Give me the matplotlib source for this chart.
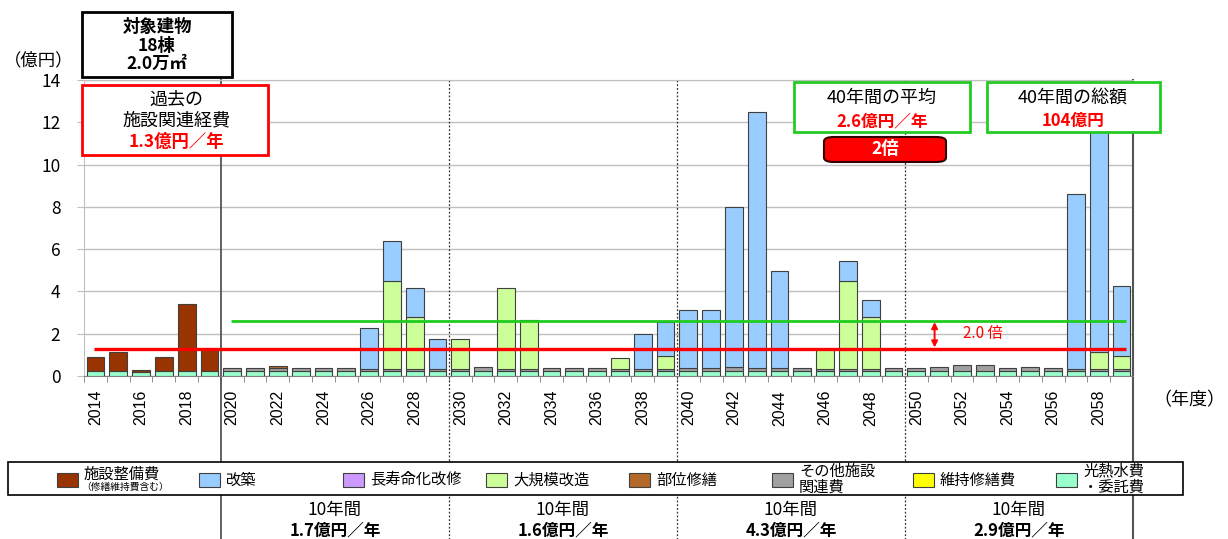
import numpy as np
import matplotlib
matplotlib.use('Agg')
import matplotlib.pyplot as plt
from matplotlib.patches import Rectangle, FancyBboxPatch
from matplotlib.transforms import blended_transform_factory
from matplotlib import font_manager

plt.rcParams['font.family'] = ['Noto Sans CJK JP', 'DejaVu Sans']

W, H = 1228, 539

years = list(range(2014, 2060))

# 億円, one value per year 2014-2059
kounetsu = [0.22, 0.22, 0.20, 0.22, 0.22, 0.22,
            0.22, 0.22, 0.22, 0.22, 0.22, 0.22, 0.22, 0.22, 0.22, 0.22,
            0.22, 0.22, 0.22, 0.22, 0.22, 0.22, 0.22, 0.22, 0.22, 0.22,
            0.22, 0.22, 0.22, 0.22, 0.22, 0.22, 0.22, 0.22, 0.22, 0.22,
            0.22, 0.22, 0.22, 0.22, 0.22, 0.22, 0.22, 0.22, 0.22, 0.22]
sonota = [0, 0, 0, 0, 0, 0,
          0.16, 0.16, 0.16, 0.16, 0.16, 0.16, 0.13, 0.13, 0.13, 0.13,
          0.13, 0.20, 0.13, 0.13, 0.15, 0.17, 0.17, 0.13, 0.13, 0.13,
          0.15, 0.15, 0.20, 0.15, 0.15, 0.18, 0.13, 0.13, 0.13, 0.18,
          0.14, 0.20, 0.30, 0.30, 0.18, 0.20, 0.18, 0.13, 0.13, 0.13]
iji = [0.0] * 46
buii = [0, 0, 0, 0, 0, 0,
        0, 0, 0.08, 0, 0, 0, 0, 0, 0, 0,
        0, 0, 0, 0, 0, 0, 0, 0, 0, 0,
        0, 0, 0, 0, 0, 0, 0, 0, 0, 0,
        0, 0, 0, 0, 0, 0, 0, 0, 0, 0]
daikibo = [0, 0, 0, 0, 0, 0,
           0, 0, 0, 0, 0, 0, 0, 4.12, 2.46, 0,
           1.40, 0, 3.83, 2.28, 0, 0, 0, 0.49, 0, 0.61,
           0, 0, 0, 0, 0, 0, 0.91, 4.14, 2.43, 0,
           0, 0, 0, 0, 0, 0, 0, 0, 0.80, 0.60]
chouju = [0.0] * 46
kaichiku = [0, 0, 0, 0, 0, 0,
            0, 0, 0, 0, 0, 0, 1.94, 1.92, 1.37, 1.40,
            0, 0, 0, 0, 0, 0, 0, 0, 1.62, 1.58,
            2.73, 2.73, 7.59, 12.13, 4.60, 0, 0, 0.95, 0.82, 0,
            0, 0, 0, 0, 0, 0, 0, 8.26, 11.85, 3.32]
seibi = [0.68, 0.90, 0.10, 0.69, 3.19, 1.08,
         0, 0, 0, 0, 0, 0, 0, 0, 0, 0,
         0, 0, 0, 0, 0, 0, 0, 0, 0, 0,
         0, 0, 0, 0, 0, 0, 0, 0, 0, 0,
         0, 0, 0, 0, 0, 0, 0, 0, 0, 0]

past_avg = 1.3
avg_40 = 2.6
total_40 = 104
decade_avg = [1.7, 1.6, 4.3, 2.9]

names = ['光熱水費\n・委託費', 'その他施設\n関連費', '維持修繕費', '部位修繕',
         '大規模改造', '長寿命化改修', '改築', '施設整備費']
colors = ['#99ffcc', '#a0a0a0', '#ffff00', '#b4692b',
          '#ccff99', '#cc99ff', '#99ccff', '#993300']
series = [kounetsu, sonota, iji, buii, daikibo, chouju, kaichiku, seibi]

installed = {f.name for f in font_manager.fontManager.ttflist}
year_font = 'Liberation Sans Narrow' if 'Liberation Sans Narrow' in installed else 'Liberation Sans'


def fx(x):
    return x / W


def fy(y):
    return 1 - y / H


fig = plt.figure(figsize=(W / 100, H / 100), dpi=100)
ax = fig.add_axes([fx(84), fy(376), (1133 - 84) / W, (376 - 80) / H])

idx = np.arange(len(years))
bottom = np.zeros(len(years))
for vals, col in zip(series, colors):
    v = np.array(vals, dtype=float)
    m = v > 0
    ax.bar(idx[m], v[m], bottom=bottom[m], width=0.78, color=col,
           edgecolor='#404040', linewidth=0.8, zorder=3)
    bottom += v

# average lines
ax.hlines(past_avg, -0.05, 45.2, color='#ff0000', lw=2.4, zorder=5)
ax.hlines(avg_40, 5.95, 45.2, color='#1fcc1f', lw=2.0, zorder=5)
ax.annotate('', xy=(36.8, avg_40 - 0.05), xytext=(36.8, past_avg + 0.05),
            arrowprops=dict(arrowstyle='<|-|>', color='#ff0000', lw=1.4,
                            mutation_scale=9, shrinkA=0, shrinkB=0), zorder=6)
ax.text(38.9, 2.0, f'{avg_40 / past_avg:.1f} 倍', color='#ff0000', fontsize=11,
        ha='center', va='center', zorder=6)

ax.set_xlim(-0.5, 45.5)
ax.set_ylim(0, 14)
ax.set_yticks(np.arange(0, 15, 2))
ax.tick_params(axis='y', labelsize=12.5, length=5, color='#c0c0c0', pad=12)
ax.set_xticks(idx[::2])
ax.set_xticklabels([str(y) for y in years[::2]], rotation=90,
                   fontsize=11.5, family=year_font)
ax.set_xticks(np.arange(-0.5, 46, 1), minor=True)
ax.tick_params(axis='x', which='major', length=0, pad=10)
ax.tick_params(axis='x', which='minor', length=4, color='#808080')
ax.yaxis.grid(True, color='#c0c0c0', lw=1)
ax.set_axisbelow(True)
for s in ['top', 'left']:
    ax.spines[s].set_color('#c0c0c0')
ax.spines['right'].set_visible(False)
ax.spines['bottom'].set_color('#808080')

# decade dividers running down to the bottom of the figure
xt = ax.get_xaxis_transform()
low = (376 - H) / (376 - 80)
ax.plot([5.5, 5.5], [1, low], transform=xt, color='#555555', lw=1.3,
        clip_on=False, zorder=2)
for xd in [15.5, 25.5, 35.5]:
    ax.plot([xd, xd], [1, low], transform=xt, color='#333333', lw=0.9,
            ls=(0, (1.5, 1.5)), clip_on=False, zorder=2)
ax.plot([45.5, 45.5], [1, low], transform=xt, color='#555555', lw=1.5,
        clip_on=False, zorder=2)

fig.text(fx(39), fy(60), '（億円）', fontsize=12.5, ha='center', va='center')
fig.text(fx(1189), fy(400), '（年度）', fontsize=13, ha='center', va='center')


def box(x0, y0, x1, y1, ec, lw=2.0):
    fig.patches.append(Rectangle((fx(x0), fy(y1)), fx(x1) - fx(x0), fy(y0) - fy(y1),
                                 transform=fig.transFigure, facecolor='white',
                                 edgecolor=ec, lw=lw, zorder=2))


box(82, 12, 232, 77, 'black')
fig.text(fx(157), fy(27), '対象建物', fontsize=12.5, weight='bold', ha='center', va='center')
fig.text(fx(157), fy(46), '18棟', fontsize=12.5, weight='bold', ha='center', va='center')
fig.text(fx(157), fy(64), '2.0万㎡', fontsize=12.5, weight='bold', ha='center', va='center')

box(82, 85, 268, 155, '#ff0000')
fig.text(fx(176), fy(100), '過去の', fontsize=13, ha='center', va='center')
fig.text(fx(176), fy(120), '施設関連経費', fontsize=13, ha='center', va='center')
fig.text(fx(176), fy(142), f'{past_avg:.1f}億円／年', fontsize=12.5, weight='bold',
         color='#ff0000', ha='center', va='center')

box(794, 82, 970, 132, '#22cc22')
fig.text(fx(882), fy(98), '40年間の平均', fontsize=13, ha='center', va='center')
fig.text(fx(882), fy(121), f'{avg_40:.1f}億円／年', fontsize=12, weight='bold',
         color='#ff0000', ha='center', va='center')

box(987, 82, 1160, 132, '#22cc22')
fig.text(fx(1073), fy(98), '40年間の総額', fontsize=13, ha='center', va='center')
fig.text(fx(1073), fy(121), f'{total_40}億円', fontsize=12, weight='bold',
         color='#ff0000', ha='center', va='center')

fig.patches.append(FancyBboxPatch((fx(824), fy(162)), fx(946) - fx(824), fy(137) - fy(162),
                                  boxstyle='round,pad=0,rounding_size=0.008',
                                  transform=fig.transFigure, facecolor='#ff0000',
                                  edgecolor='#330000', lw=1.5, zorder=2))
fig.text(fx(885), fy(149.5), f'{avg_40 / past_avg:.0f}倍', fontsize=12.5, weight='bold',
         color='white', ha='center', va='center')

# legend strip
box(8, 462, 1183, 495, 'black', lw=1.2)
leg_x = [57, 199, 343, 486, 629, 772, 913, 1056]
leg_order = [7, 6, 5, 4, 3, 1, 2, 0]
for lx, k in zip(leg_x, leg_order):
    fig.patches.append(Rectangle((fx(lx), fy(487)), fx(21), fy(473) - fy(487),
                                 transform=fig.transFigure, facecolor=colors[k],
                                 edgecolor='#404040', lw=0.8, zorder=3))
    if k == 7:
        fig.text(fx(lx + 26), fy(474), names[k], fontsize=11, ha='left', va='center')
        fig.text(fx(lx + 24), fy(487), '（修繕維持費含む）', fontsize=7, ha='left', va='center')
    elif '\n' in names[k]:
        top, bot = names[k].split('\n')
        fig.text(fx(lx + 27), fy(471), top, fontsize=11, ha='left', va='center')
        fig.text(fx(lx + 27), fy(487), bot, fontsize=11, ha='left', va='center')
    else:
        fig.text(fx(lx + 27), fy(480), names[k], fontsize=11, ha='left', va='center')

# per-decade averages under the legend
bt = blended_transform_factory(ax.transData, fig.transFigure)
for i, val in enumerate(decade_avg):
    xc = 10.5 + 10 * i
    fig.text(xc, fy(510), '10年間', transform=bt, fontsize=12.5, ha='center', va='center')
    fig.text(xc, fy(530), f'{val:.1f}億円／年', transform=bt, fontsize=12,
             weight='bold', ha='center', va='center')

fig.savefig('out.png', dpi=100)
